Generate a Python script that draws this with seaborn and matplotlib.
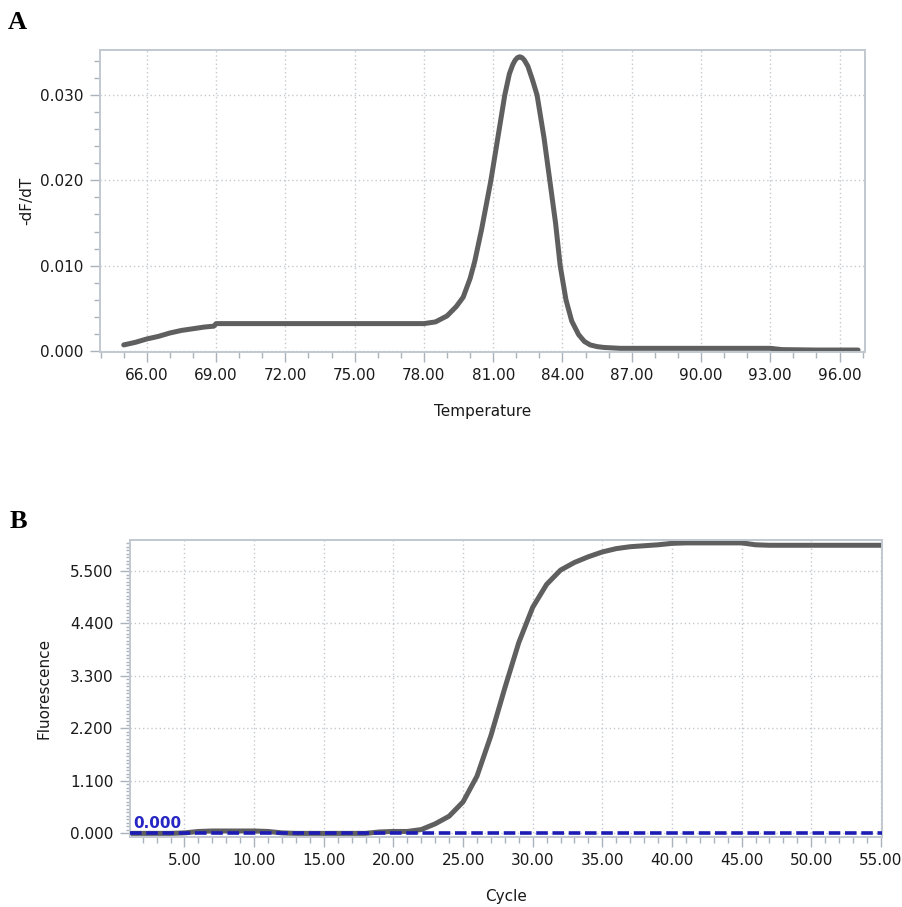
import matplotlib
matplotlib.use("Agg")
import matplotlib.pyplot as plt
from matplotlib.ticker import MultipleLocator, AutoMinorLocator, FormatStrFormatter
import seaborn as sns

# Panel A: melt curve (-dF/dT vs temperature)
melt_temp = [65.0, 65.5, 66.0, 66.5, 67.0, 67.5, 68.0, 68.5, 68.9, 69.0, 70.0, 72.0,
             74.0, 76.0, 78.0, 78.5, 79.0, 79.4, 79.7, 80.0, 80.2, 80.5, 80.9, 81.2,
             81.5, 81.7, 81.85, 81.95, 82.05, 82.15, 82.25, 82.35, 82.5, 82.7, 82.9,
             83.2, 83.45, 83.7, 83.9, 84.15, 84.4, 84.7, 84.95, 85.2, 85.5, 85.8, 86.5,
             88.0, 90.0, 93.0, 93.5, 95.0, 96.8]
melt_dfdt = [0.0007, 0.0010, 0.0014, 0.0017, 0.0021, 0.0024, 0.0026, 0.0028, 0.0029,
             0.0032, 0.0032, 0.0032, 0.0032, 0.0032, 0.0032, 0.0034, 0.0041, 0.0052,
             0.0063, 0.0085, 0.0105, 0.0143, 0.0200, 0.0250, 0.0300, 0.0325, 0.0336,
             0.0341, 0.0344, 0.0345, 0.0344, 0.0341, 0.0334, 0.0318, 0.0300, 0.0250,
             0.0200, 0.0150, 0.0100, 0.0060, 0.0035, 0.0019, 0.0011, 0.0007, 0.0005,
             0.0004, 0.0003, 0.0003, 0.0003, 0.0003, 0.00015, 0.0001, 0.0001]

# Panel B: amplification curve (fluorescence vs cycle)
cycles = list(range(1, 56))
fluor = [0.00, 0.00, 0.00, 0.00, 0.01, 0.04, 0.05, 0.05, 0.05, 0.05, 0.04, 0.01,
         0.00, 0.00, 0.00, 0.00, 0.00, 0.00, 0.03, 0.04, 0.04, 0.08, 0.20, 0.36,
         0.66, 1.20, 2.05, 3.05, 4.00, 4.74, 5.22, 5.52, 5.68, 5.80, 5.90, 5.97,
         6.01, 6.03, 6.05, 6.08, 6.09, 6.09, 6.09, 6.09, 6.09, 6.05, 6.04, 6.04,
         6.04, 6.04, 6.04, 6.04, 6.04, 6.04, 6.04]
threshold = 0.000

sns.set_style("white")
plt.rcParams['font.family'] = ['DejaVu Sans']

line_col = '#5f5f5f'
grid_col = '#c4c9d0'
frame_col = '#c2c8d0'
text_col = '#1a1a1a'

fig = plt.figure(figsize=(9.03, 9.07), dpi=100)
ax_a = fig.add_axes([0.1107, 0.6122, 0.8472, 0.3327])
ax_b = fig.add_axes([0.1440, 0.0775, 0.8331, 0.3271])


def style_axes(ax):
    for sp in ax.spines.values():
        sp.set_color(frame_col)
        sp.set_linewidth(1.4)
    ax.grid(True, which='major', color=grid_col, linestyle=(0, (1, 2)), linewidth=1.0)
    ax.tick_params(which='major', direction='out', length=7, width=1, color='#aab2bc',
                   labelsize=11, labelcolor=text_col, pad=5)
    ax.tick_params(which='minor', direction='out', length=4, width=1, color='#aab2bc')
    ax.tick_params(axis='x', which='both', bottom=True)
    ax.tick_params(axis='y', which='both', left=True)


# ---- A ----
sns.lineplot(x=melt_temp, y=melt_dfdt, ax=ax_a, color=line_col, linewidth=3.6,
             solid_capstyle='round', solid_joinstyle='round')
ax_a.set_xlim(63.97, 97.1)
ax_a.set_ylim(-0.0001, 0.0353)
ax_a.set_xticks([66, 69, 72, 75, 78, 81, 84, 87, 90, 93, 96])
ax_a.xaxis.set_minor_locator(MultipleLocator(1))
ax_a.yaxis.set_major_locator(MultipleLocator(0.01))
ax_a.yaxis.set_minor_locator(MultipleLocator(0.002))
ax_a.xaxis.set_major_formatter(FormatStrFormatter('%.2f'))
ax_a.yaxis.set_major_formatter(FormatStrFormatter('%.3f'))
style_axes(ax_a)
ax_a.set_xlabel('Temperature', fontsize=11, color=text_col, labelpad=15)
ax_a.set_ylabel('-dF/dT', fontsize=11, color=text_col, labelpad=4)

# ---- B ----
sns.lineplot(x=cycles, y=fluor, ax=ax_b, color=line_col, linewidth=3.6,
             solid_capstyle='round', solid_joinstyle='round')
ax_b.axhline(threshold, color='#1c1cb4', linewidth=2.6, linestyle=(0, (3.2, 1.3)), zorder=5)
ax_b.text(1.3, threshold + 0.06, '%.3f' % threshold, color='#2626c4', fontsize=11,
          fontweight='bold', ha='left', va='bottom', zorder=6)
ax_b.set_xlim(1.09, 55.1)
ax_b.set_ylim(-0.07, 6.15)
ax_b.set_xticks([5, 10, 15, 20, 25, 30, 35, 40, 45, 50, 55])
ax_b.xaxis.set_minor_locator(MultipleLocator(1))
ax_b.set_yticks([0.0, 1.1, 2.2, 3.3, 4.4, 5.5])
ax_b.yaxis.set_minor_locator(AutoMinorLocator(15))
ax_b.xaxis.set_major_formatter(FormatStrFormatter('%.2f'))
ax_b.yaxis.set_major_formatter(FormatStrFormatter('%.3f'))
style_axes(ax_b)
ax_b.tick_params(axis='y', which='minor', length=3)
ax_b.set_xlabel('Cycle', fontsize=11, color=text_col, labelpad=15)
ax_b.set_ylabel('Fluorescence', fontsize=11, color=text_col, labelpad=13)

# panel letters
fig.text(0.009, 0.975, 'A', fontsize=19, fontweight='bold', family=['Liberation Serif'],
         ha='left', va='center', color='black')
fig.text(0.011, 0.425, 'B', fontsize=19, fontweight='bold', family=['Liberation Serif'],
         ha='left', va='center', color='black')

fig.savefig('out.png', dpi=100)
